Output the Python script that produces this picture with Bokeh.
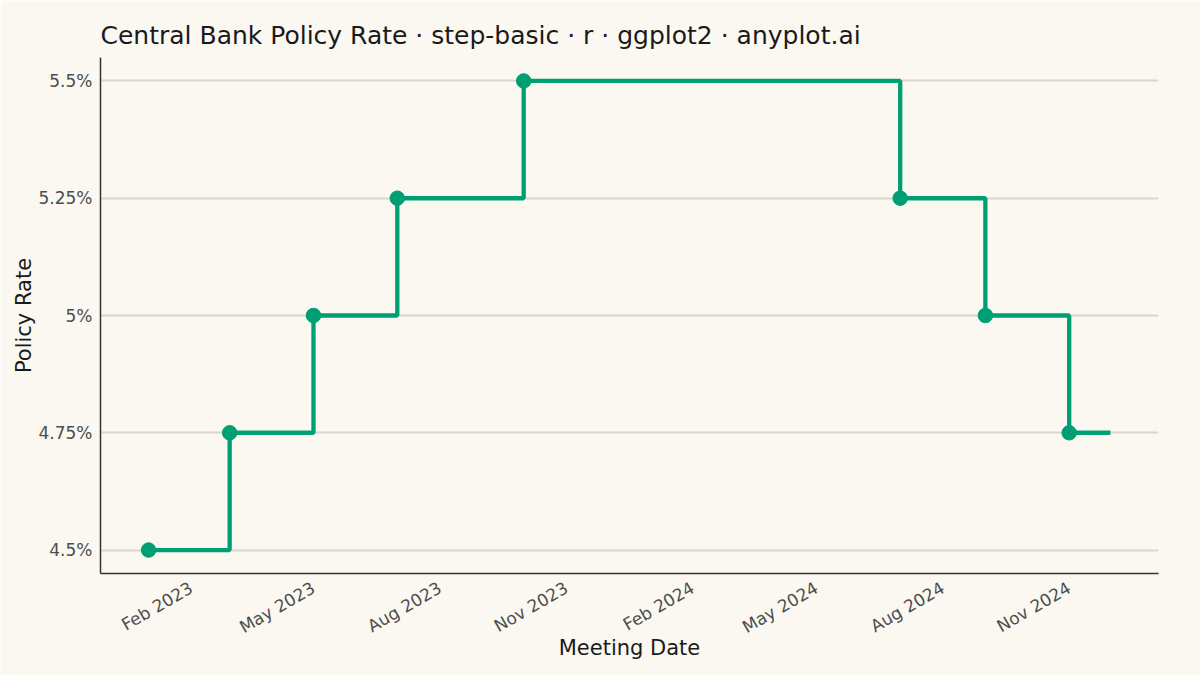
import datetime as dt
from bokeh.plotting import figure
from bokeh.models import Range1d, FixedTicker, DatetimeTickFormatter
from bokeh.embed import file_html
from bokeh.resources import INLINE
import math


#########################################################
# data
#########################################################

meeting_dates = ["2023-01-01", "2023-03-01", "2023-05-01", "2023-07-01", "2023-10-01",
                 "2024-07-01", "2024-09-01", "2024-11-01"]
rates = [4.50, 4.75, 5.00, 5.25, 5.50, 5.25, 5.00, 4.75]
# last rate is held until this date (no meeting marker)
hold_until = "2024-12-01"

x_tick_dates = ["2023-02-01", "2023-05-01", "2023-08-01", "2023-11-01",
                "2024-02-01", "2024-05-01", "2024-08-01", "2024-11-01"]
y_ticks = [4.5, 4.75, 5.0, 5.25, 5.5]
y_tick_labels = ["4.5%", "4.75%", "5%", "5.25%", "5.5%"]

title = "Central Bank Policy Rate · step-basic · r · ggplot2 · anyplot.ai"
bg = "#FAF8F1"
green = "#009E73"
font = "DejaVu Sans"


#########################################################
# plotting
#########################################################

# dates to ms since epoch, bokeh datetime axis works in ms
def to_ms(s):
    d = dt.datetime.strptime(s, "%Y-%m-%d").replace(tzinfo=dt.timezone.utc)
    return d.timestamp() * 1000.0


x_pts = [to_ms(d) for d in meeting_dates]
x_step = x_pts + [to_ms(hold_until)]
y_step = rates + [rates[-1]]

# 5% expansion like ggplot
x_span = x_step[-1] - x_step[0]
y_span = max(rates) - min(rates)

p = figure(width=1200, height=675, x_axis_type="datetime", output_backend="svg", toolbar_location=None,
           title=title, min_border_left=100, min_border_right=42, min_border_top=57, min_border_bottom=102)
p.x_range = Range1d(x_step[0] - 0.05 * x_span, x_step[-1] + 0.05 * x_span)
p.y_range = Range1d(min(rates) - 0.05 * y_span, max(rates) + 0.05 * y_span)

p.background_fill_color = bg
p.border_fill_color = bg
p.outline_line_color = None

p.title.text_font = font
p.title.text_font_size = "25px"
p.title.text_font_style = "normal"
p.title.text_color = "#1a1a1a"
p.title.standoff = 15

p.step(x_step, y_step, mode="after", line_color=green, line_width=4.3)
p.scatter(x_pts, rates, size=14.5, fill_color=green, line_color=green)

# grid: only horizontal lines at y ticks
p.xgrid.grid_line_color = None
p.ygrid.grid_line_color = "#DAD6CD"
p.ygrid.grid_line_width = 2

# axes
p.xaxis.ticker = FixedTicker(ticks=[to_ms(d) for d in x_tick_dates])
p.xaxis.formatter = DatetimeTickFormatter(days="%b %Y", months="%b %Y", years="%b %Y")
p.xaxis.major_label_orientation = math.pi / 6
p.yaxis.ticker = FixedTicker(ticks=y_ticks)
p.yaxis.major_label_overrides = {t: l for t, l in zip(y_ticks, y_tick_labels)}

p.xaxis.axis_label = "Meeting Date"
p.yaxis.axis_label = "Policy Rate"

for ax in [p.xaxis[0], p.yaxis[0]]:
    ax.axis_line_color = "#333333"
    ax.axis_line_width = 1.5
    ax.major_tick_line_color = None
    ax.minor_tick_line_color = None
    ax.major_label_text_font = font
    ax.major_label_text_font_size = "17px"
    ax.major_label_text_color = "#4d4d4d"
    ax.axis_label_text_font = font
    ax.axis_label_text_font_size = "21px"
    ax.axis_label_text_font_style = "normal"
    ax.axis_label_text_color = "#1a1a1a"
    ax.major_label_standoff = 7

p.yaxis.major_label_standoff = 2
p.yaxis.axis_label_standoff = -1
p.xaxis.axis_label_standoff = -13

open("out.html", "w").write(file_html(p, INLINE))
